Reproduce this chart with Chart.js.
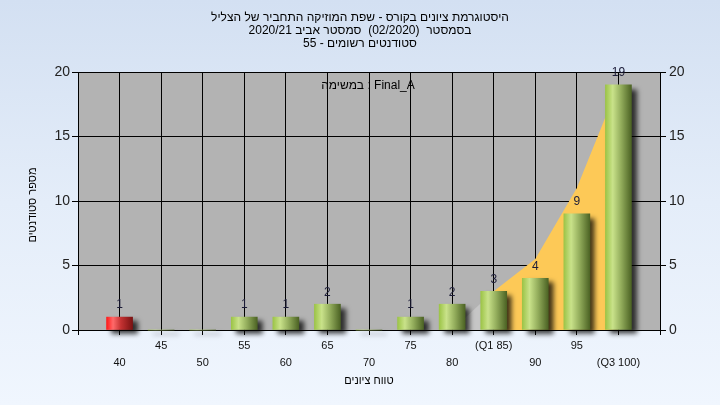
<!DOCTYPE html>
<html>
<head>
<meta charset="utf-8">
<script src="https://cdn.jsdelivr.net/npm/chart.js@4"></script>
<style>
  html, body { margin: 0; padding: 0; }
  body { width: 720px; height: 405px; background: linear-gradient(to bottom, #d3e0f2 0%, #e4edf9 50%, #f0f6fe 100%); }
  #wrap { width: 720px; height: 405px; }
</style>
</head>
<body>
<div id="wrap"><canvas id="c" width="720" height="405"></canvas></div>
<script>
// ---- data ----
const gradeBins = [40, 45, 50, 55, 60, 65, 70, 75, 80, 85, 90, 95, 100];
const studentCounts = [1, 0, 0, 1, 1, 2, 0, 1, 2, 3, 4, 9, 19];
const tickLabels = ['40', '45', '50', '55', '60', '65', '70', '75', '80', '(Q1 85)', '90', '95', '(Q3 100)'];
const lowAreaX = [80, 85];
const lowAreaY = [0, 3];
const quartileAreaX = [85, 90, 95, 100];
const quartileAreaY = [3, 5.5, 11, 19];
const failBins = [40];
const titleLines = [
  'היסטוגרמת ציונים בקורס - שפת המוזיקה התחביר של הצליל',
  'בסמסטר  (02/2020)  סמסטר אביב 2020/21',
  'סטודנטים רשומים - 55'
];
const legendText = 'במשימה : Final_A';
const xTitle = 'טווח ציונים';
const yTitle = 'מספר סטודנטים';

const FONT = "'Liberation Sans', Arial, sans-serif";

const barPoints = gradeBins.map((g, i) => ({ x: g, y: studentCounts[i] }));
const lowPoints = lowAreaX.map((g, i) => ({ x: g, y: lowAreaY[i] }));
const qPoints = quartileAreaX.map((g, i) => ({ x: g, y: quartileAreaY[i] }));

function makeBarGradient(c, cx, isFail) {
  const g = c.createLinearGradient(cx - 13, 0, cx + 13, 0);
  if (isFail) {
    g.addColorStop(0, '#ff1a1a');
    g.addColorStop(0.25, '#ff6a6a');
    g.addColorStop(0.55, '#c43232');
    g.addColorStop(1, '#7a1212');
  } else {
    g.addColorStop(0, '#9cc447');
    g.addColorStop(0.28, '#c9e28a');
    g.addColorStop(0.6, '#93ad5c');
    g.addColorStop(1, '#4c6324');
  }
  return g;
}

const bgPlugin = {
  id: 'plotBg',
  beforeDraw(chart) {
    const { ctx, chartArea: a } = chart;
    ctx.save();
    ctx.fillStyle = '#b3b3b3';
    ctx.fillRect(a.left, a.top, a.right - a.left, a.bottom - a.top);
    ctx.restore();
  }
};

const shadowPlugin = {
  id: 'barShadow',
  beforeDatasetDraw(chart, args) {
    if (args.meta.type !== 'bar') return;
    const ctx = chart.ctx;
    args.meta.data.forEach((el, i) => {
      const g = makeBarGradient(ctx, el.x, failBins.includes(gradeBins[i]));
      el.options = Object.assign({}, el.options, { backgroundColor: g });
    });
    ctx.save();
    ctx.shadowColor = 'rgba(0,0,0,0.75)';
    ctx.shadowBlur = 5;
    ctx.shadowOffsetX = 5;
    ctx.shadowOffsetY = 4;
  },
  afterDatasetDraw(chart, args) {
    if (args.meta.type !== 'bar') return;
    chart.ctx.restore();
  }
};

const textPlugin = {
  id: 'texts',
  afterDatasetsDraw(chart) {
    const ctx = chart.ctx;
    const meta = chart.getDatasetMeta(0);
    ctx.save();
    ctx.font = '12px ' + FONT;
    ctx.fillStyle = '#1c1c38';
    ctx.textAlign = 'center';
    ctx.textBaseline = 'middle';
    meta.data.forEach((el, i) => {
      const v = studentCounts[i];
      if (v > 0) ctx.fillText(String(v), el.x, el.y - 12);
    });
    ctx.fillStyle = '#000';
    ctx.direction = 'ltr';
    ctx.fillText(legendText, 368, 86);
    ctx.restore();
  },
  afterDraw(chart) {
    const ctx = chart.ctx;
    ctx.save();
    ctx.direction = 'rtl';
    ctx.textAlign = 'center';
    ctx.textBaseline = 'middle';
    ctx.fillStyle = '#000';
    ctx.font = '12px ' + FONT;
    titleLines.forEach((line, i) => ctx.fillText(line, 360, 18 + i * 12.6));
    ctx.font = '11px ' + FONT;
    ctx.fillText(xTitle, 369, 381);
    ctx.translate(33, 205);
    ctx.rotate(-Math.PI / 2);
    ctx.fillText(yTitle, 0, 0);
    ctx.restore();
  }
};

new Chart(document.getElementById('c'), {
  type: 'bar',
  data: {
    datasets: [
      {
        type: 'bar',
        data: barPoints,
        backgroundColor: '#9cc24c',
        barThickness: 26,
        borderWidth: 0,
        order: 0,
        clip: false
      },
      {
        type: 'line',
        data: lowPoints,
        fill: 'origin',
        backgroundColor: '#c6c6c6',
        borderWidth: 0,
        pointRadius: 0,
        tension: 0,
        order: 2
      },
      {
        type: 'line',
        data: qPoints,
        fill: 'origin',
        backgroundColor: '#fdc957',
        borderWidth: 0,
        pointRadius: 0,
        tension: 0,
        order: 1
      }
    ]
  },
  options: {
    responsive: false,
    animation: false,
    devicePixelRatio: 1,
    layout: { padding: { top: 72, left: 0, right: 0, bottom: 0 } },
    plugins: {
      legend: { display: false },
      tooltip: { enabled: false },
      title: { display: false }
    },
    scales: {
      x: {
        type: 'linear',
        min: 35,
        max: 105,
        offset: false,
        afterFit(s) { s.height = 75; },
        grid: { color: '#000', lineWidth: 1, offset: false, tickLength: 5, tickColor: '#000' },
        border: { color: '#000' },
        ticks: {
          stepSize: 5,
          autoSkip: false,
          maxRotation: 0,
          minRotation: 0,
          padding: 2,
          color: '#111',
          font: { family: FONT, size: 11, lineHeight: 1.55 },
          callback(v) {
            const i = gradeBins.indexOf(v);
            if (i < 0) return '';
            return i % 2 === 0 ? ['', tickLabels[i]] : [tickLabels[i], ''];
          }
        },
        title: { display: false }
      },
      y: {
        position: 'left',
        min: 0,
        max: 20,
        afterFit(s) { s.width = 78; },
        grid: { color: '#000', lineWidth: 1, tickLength: 6, tickColor: '#000' },
        border: { color: '#000' },
        ticks: { stepSize: 5, padding: 2, color: '#222', font: { family: FONT, size: 14 } },
        title: { display: false }
      },
      y2: {
        position: 'right',
        min: 0,
        max: 20,
        afterFit(s) { s.width = 60; },
        grid: { drawOnChartArea: false, color: '#000', tickLength: 6, tickColor: '#000' },
        border: { color: '#000' },
        ticks: { stepSize: 5, padding: 3, color: '#222', font: { family: FONT, size: 14 } }
      }
    }
  },
  plugins: [bgPlugin, shadowPlugin, textPlugin]
});
</script>
</body>
</html>
